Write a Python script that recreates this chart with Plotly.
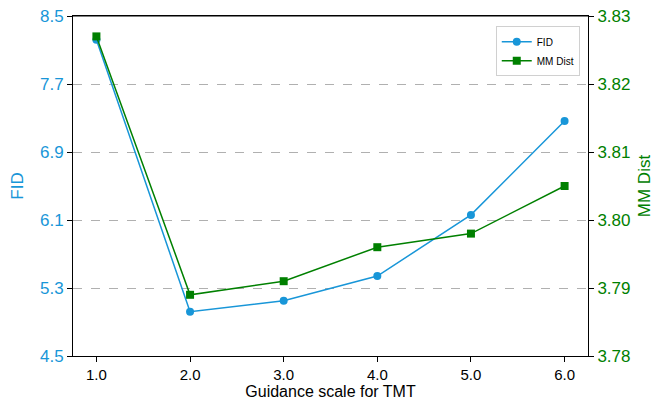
import plotly.graph_objects as go

guidance = [1.0, 2.0, 3.0, 4.0, 5.0, 6.0]
fid = [8.22, 5.02, 5.15, 5.44, 6.16, 7.265]
mm_dist = [3.827, 3.789, 3.791, 3.796, 3.798, 3.805]

fid_ticks = [4.5, 5.3, 6.1, 6.9, 7.7, 8.5]
mm_ticks = [3.78, 3.79, 3.80, 3.81, 3.82, 3.83]

BLUE = "#1896d8"
GREEN = "#008000"
FONT = "Liberation Sans"

fig = go.Figure()
fig.add_trace(go.Scatter(x=guidance, y=fid, name="FID", mode="lines+markers",
                         line=dict(color=BLUE, width=1.5),
                         marker=dict(symbol="circle", size=8, color=BLUE), yaxis="y"))
fig.add_trace(go.Scatter(x=guidance, y=mm_dist, name="MM Dist", mode="lines+markers",
                         line=dict(color=GREEN, width=1.5),
                         marker=dict(symbol="square", size=8, color=GREEN), yaxis="y2"))

fig.update_layout(
    width=665, height=402,
    margin=dict(l=73, r=77, t=16, b=46, autoexpand=False),
    paper_bgcolor="white", plot_bgcolor="white",
    font=dict(family=FONT, color="black"),
    showlegend=True,
    legend=dict(x=0.984, y=0.97, xanchor="right", yanchor="top",
                bgcolor="rgba(255,255,255,0.8)", bordercolor="#d0d0d0", borderwidth=1,
                font=dict(size=10, family=FONT), tracegroupgap=0,
                itemwidth=30),
    shapes=[dict(type="line", xref="paper", yref="paper", x0=0, x1=1, y0=1, y1=1,
                 line=dict(color="black", width=1), layer="above")],
    xaxis=dict(range=[0.75, 6.25], tickvals=guidance, ticktext=[f"{v:.1f}" for v in guidance],
               showline=True, linecolor="black", linewidth=1, mirror=True, automargin=False,
               ticks="outside", ticklen=5, tickcolor="black", showgrid=False, zeroline=False,
               tickfont=dict(size=15, family=FONT),
               title=dict(text="Guidance scale for TMT", font=dict(size=16, family=FONT), standoff=2)),
    yaxis=dict(range=[4.5, 8.5], tickvals=fid_ticks, ticktext=[f"{v:.1f}" for v in fid_ticks],
               showline=True, linecolor="black", linewidth=1, automargin=False,
               ticks="outside", ticklen=5, tickcolor="black",
               showgrid=True, gridcolor="#b0b0b0", griddash="dash", gridwidth=1, zeroline=False,
               tickfont=dict(size=17, color=BLUE, family=FONT),
               title=dict(text="FID", font=dict(size=17, color=BLUE, family=FONT), standoff=12)),
    yaxis2=dict(range=[3.78, 3.83], tickvals=mm_ticks, ticktext=[f"{v:.2f}" for v in mm_ticks],
                overlaying="y", side="right", showline=True, linecolor="black", linewidth=1,
                automargin=False,
                ticks="outside", ticklen=5, tickcolor="black", showgrid=False, zeroline=False,
                tickfont=dict(size=17, color=GREEN, family=FONT),
                title=dict(text="MM Dist", font=dict(size=17, color=GREEN, family=FONT), standoff=8)),
)

fig.write_html("out.html", config={"displayModeBar": False},
               post_script="document.body.style.margin='0';document.body.style.overflow='hidden';")
